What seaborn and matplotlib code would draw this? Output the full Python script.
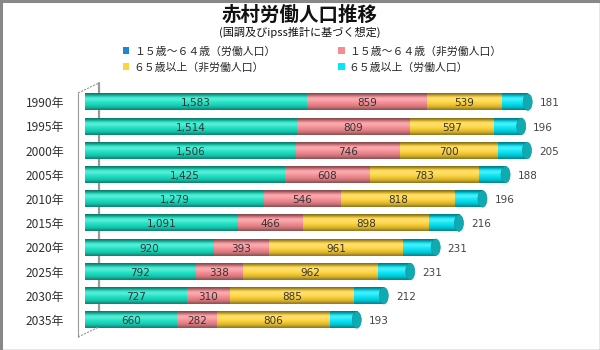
import numpy as np
import pandas as pd
import matplotlib
matplotlib.use("Agg")
import matplotlib.pyplot as plt
import matplotlib.colors as mcolors
from matplotlib.patches import Patch, Ellipse
from matplotlib.lines import Line2D
import seaborn as sns

years = ["1990年", "1995年", "2000年", "2005年", "2010年",
         "2015年", "2020年", "2025年", "2030年", "2035年"]
series_names = ["１５歳～６４歳（労働人口）", "１５歳～６４歳（非労働人口）",
                "６５歳以上（非労働人口）", "６５歳以上（労働人口）"]
work_15_64 = [1583, 1514, 1506, 1425, 1279, 1091, 920, 792, 727, 660]
nonwork_15_64 = [859, 809, 746, 608, 546, 466, 393, 338, 310, 282]
nonwork_65 = [539, 597, 700, 783, 818, 898, 961, 962, 885, 806]
work_65 = [181, 196, 205, 188, 196, 216, 231, 231, 212, 193]

title = "赤村労働人口推移"
subtitle = "(国調及びipss推計に基づく想定)"

colors = ["#1CE3C6", "#F68C92", "#FFD43A", "#06E6F6"]
legend_colors = ["#1E86D6", "#F68C92", "#FFD43A", "#06E6F6"]
cap_color = "#10ABB0"

sns.set_theme(style="white")
plt.rcParams["font.family"] = ["DejaVu Sans", "Noto Sans CJK JP"]
cjk = ["Noto Sans CJK JP", "DejaVu Sans"]

W, H = 600, 350
fig = plt.figure(figsize=(W / 100, H / 100), dpi=100)
fig.patch.set_facecolor("white")

# axes placement
ax_left, ax_right = 85, 575
ax_top, ax_bot = 90, 332
ax = fig.add_axes([ax_left / W, 1 - ax_bot / H, (ax_right - ax_left) / W, (ax_bot - ax_top) / H])
ax.set_facecolor("none")

series = [work_15_64, nonwork_15_64, nonwork_65, work_65]
cum = np.zeros(len(years))
for i, vals in enumerate(series):
    sns.barplot(x=np.array(vals), y=years, left=cum.copy(), color=colors[i],
                orient="h", width=0.68, ax=ax, linewidth=0, saturation=1)
    cum = cum + np.array(vals)

xmax = 3500
ax.set_xlim(0, xmax)
ax.set_ylim(len(years) - 0.5, -0.5)

# cylinder shading overlay derived from bar patches
profile = np.array([0.55, 0.8, 1.08, 1.2, 1.12, 1.02, 0.95, 0.88, 0.78, 0.6])
for p in list(ax.patches):
    x0, y0, w, h = p.get_x(), p.get_y(), p.get_width(), p.get_height()
    base = np.array(mcolors.to_rgb(p.get_facecolor()))
    rows = []
    for f in profile:
        if f >= 1:
            c = base + (1 - base) * (f - 1) * 1.5
        else:
            c = base * f
        rows.append(np.clip(c, 0, 1))
    img = np.array(rows)[:, None, :]
    ax.imshow(img, extent=(x0, x0 + w, y0 + h, y0), aspect="auto",
              interpolation="bilinear", zorder=2.5)

px = xmax / (ax_right - ax_left)  # data units per pixel
bar_h = 0.68
for j in range(len(years)):
    ax.add_patch(Ellipse((0, j), 8 * px, bar_h * 0.98, facecolor="#16C8B4",
                         edgecolor="none", zorder=2.4))
    ax.add_patch(Ellipse((cum[j], j), 9 * px, bar_h, facecolor=cap_color,
                         edgecolor="#0A9AA0", lw=0.5, zorder=3))

# value labels
left = np.zeros(len(years))
for i, vals in enumerate(series):
    for j, v in enumerate(vals):
        if i < 3:
            ax.text(left[j] + v / 2, j + 0.05, f"{v:,}", ha="center", va="center",
                    fontsize=7.5, color="#333333", zorder=4)
        else:
            ax.text(left[j] + v + 12 * px, j + 0.05, f"{v:,}", ha="left", va="center",
                    fontsize=7.5, color="#444444", zorder=4)
    left = left + np.array(vals)

ax.set_xticks([])
ax.set_yticks(range(len(years)))
ax.set_yticklabels(years, fontsize=8.6, color="#303030", family=cjk)
ax.tick_params(axis="y", length=0, pad=15)
ax.set_xlabel("")
ax.set_ylabel("")
for s in ax.spines.values():
    s.set_visible(False)

# 3D wall lines (decoration)
def fline(xs, ys, **kw):
    fig.add_artist(Line2D([x / W for x in xs], [1 - y / H for y in ys],
                          transform=fig.transFigure, **kw))

fline([99, 99], [83, 327], color="#999999", lw=1.6, zorder=0)
fline([78, 99], [93, 83], color="#999999", lw=0.8, ls=(0, (2, 1)))
fline([78, 78], [93, 337], color="#999999", lw=0.8)
fline([78, 99], [337, 327], color="#999999", lw=0.8, ls=(0, (2, 1)))

# frame
fline([0, 600], [1, 1], color="#888888", lw=2.2)
fline([1, 1], [0, 350], color="#888888", lw=2.2)
fline([599.5, 599.5], [0, 350], color="#888888", lw=1)
fline([0, 600], [349.5, 349.5], color="#888888", lw=1)

# titles
fig.text(0.5, 1 - 15 / H, title, ha="center", va="center", fontsize=14,
         fontweight="bold", family=cjk, color="#111111")
fig.text(0.5, 1 - 32.5 / H, subtitle, ha="center", va="center", fontsize=8,
         family=cjk, color="#111111")

# legend
handles = [Patch(facecolor=legend_colors[k], edgecolor="none") for k in range(4)]
order = [0, 2, 1, 3]
fig.legend([handles[k] for k in order], [series_names[k] for k in order],
           ncol=2, loc="upper left", bbox_to_anchor=(123 / W, 1 - 46 / H),
           frameon=False, prop={"family": cjk, "size": 7.8},
           handlelength=0.6, handleheight=0.6, handletextpad=0.4,
           columnspacing=5.8, labelspacing=0.55, borderpad=0, borderaxespad=0)

fig.savefig("out.png", dpi=100, facecolor="white")
